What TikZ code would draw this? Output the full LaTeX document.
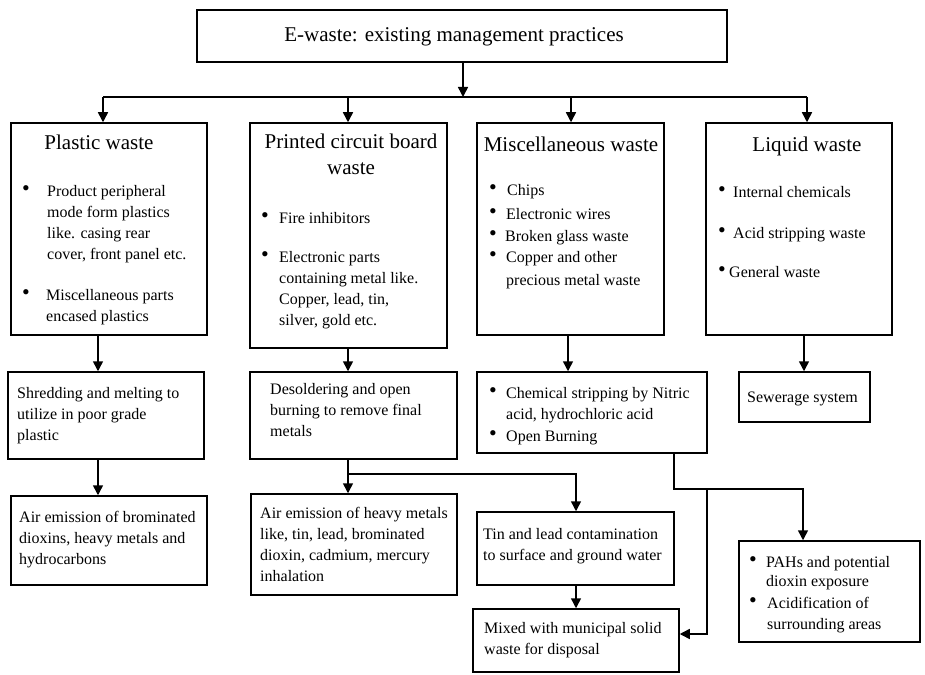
\documentclass[tikz,border=0pt]{standalone}
\usepackage{fontspec}
\setmainfont{Liberation Serif}
\usetikzlibrary{arrows.meta}
\newcommand\tl[1]{\begin{tabular}[t]{@{}l@{}}#1\end{tabular}}
\newcommand\ctl[1]{\begin{tabular}[t]{@{}c@{}}#1\end{tabular}}
\newcommand\bigbul{\raisebox{0.5pt}{\fontsize{22}{22}\selectfont\textbullet}}
\newcommand\bt[2]{\begin{tabular}[t]{@{}l@{}l@{}}\makebox[#1][l]{\hspace*{-1pt}\bigbul}&#2\end{tabular}}
\begin{document}
\begin{tikzpicture}[x=1pt,y=-1pt,
  box/.style={draw, line width=1.5pt, rectangle, inner sep=0pt},
  txt/.style={inner sep=0pt, anchor=base west, font=\fontsize{16}{21}\selectfont},
  head/.style={inner sep=0pt, anchor=base, font=\fontsize{21}{26}\selectfont},
  con/.style={line width=1.5pt},
  arr/.style={con, -{Triangle[length=10pt,width=10pt]}}]
\useasboundingbox (0,0) rectangle (925,674);
% boxes
\node[box, minimum width=530pt, minimum height=52pt] (top) at (462,36) {};
\node[box, minimum width=196pt, minimum height=212pt] (plastic) at (109,229) {};
\node[box, minimum width=197pt, minimum height=225pt] (pcb) at (348.5,235.5) {};
\node[box, minimum width=187pt, minimum height=212pt] (misc) at (570.5,229) {};
\node[box, minimum width=186pt, minimum height=212pt] (liquid) at (799,229) {};
\node[box, minimum width=196pt, minimum height=87pt] (shred) at (106,415.5) {};
\node[box, minimum width=207pt, minimum height=87pt] (desold) at (353.5,415.5) {};
\node[box, minimum width=230pt, minimum height=81pt] (chem) at (592,412.5) {};
\node[box, minimum width=131pt, minimum height=50pt] (sewer) at (804.5,397) {};
\node[box, minimum width=196pt, minimum height=89pt] (airbrom) at (109,540.5) {};
\node[box, minimum width=206pt, minimum height=101pt] (airheavy) at (354,544.5) {};
\node[box, minimum width=197pt, minimum height=73pt] (tin) at (575.5,548.5) {};
\node[box, minimum width=206pt, minimum height=63pt] (mixed) at (576,640.5) {};
\node[box, minimum width=181pt, minimum height=101pt] (pahs) at (829.5,591.5) {};
% texts
\node[head] (ttl) at (454,42) {E-waste: existing management practices};
\node[head] (h1) at (99,149) {Plastic waste};
\node[head] (h2) at (351,148) {\ctl{Printed circuit board\\waste}};
\node[head] (h3) at (571,151) {Miscellaneous waste};
\node[head] (h4) at (807,151) {Liquid waste};
\node[txt] (t1) at (23,196) {\bt{24pt}{Product peripheral\\&mode form plastics\\&like. casing rear\\&cover, front panel etc.}};
\node[txt] (t2) at (23,300) {\bt{23pt}{Miscellaneous parts\\&encased plastics}};
\node[txt] (t3) at (262,223) {\bt{17pt}{Fire inhibitors}};
\node[txt] (t4) at (262,262) {\bt{17pt}{Electronic parts\\&containing metal like.\\&Copper, lead, tin,\\&silver, gold etc.}};
\node[txt] (t5) at (490,195) {\bt{17pt}{Chips}};
\node[txt] (t6) at (490,219) {\bt{16pt}{Electronic wires}};
\node[txt] (t7) at (490,241) {\bt{15pt}{Broken glass waste}};
\node[txt] (t8) at (490,262) {\bt{16pt}{Copper and other\\[2pt]&precious metal waste}};
\node[txt] (t9) at (719,197) {\bt{14pt}{Internal chemicals}};
\node[txt] (t10) at (719,238) {\bt{14pt}{Acid stripping waste}};
\node[txt] (t11) at (719,277) {\bt{10pt}{General waste}};
\node[txt] (t12) at (17,398) {\tl{Shredding and melting to\\utilize in poor grade\\plastic}};
\node[txt] (t13) at (270,394) {\tl{Desoldering and open\\burning to remove final\\metals}};
\node[txt] (t14) at (19,522) {\tl{Air emission of brominated\\dioxins, heavy metals and\\hydrocarbons}};
\node[txt] (t15) at (260,518) {\tl{Air emission of heavy metals\\like, tin, lead, brominated\\dioxin, cadmium, mercury\\inhalation}};
\node[txt] (t16) at (490,398) {\bt{16pt}{Chemical stripping by Nitric\\&acid, hydrochloric acid}};
\node[txt] (t17) at (490,441) {\bt{16pt}{Open Burning}};
\node[txt] (t18) at (747,402) {Sewerage system};
\node[txt] (t19) at (483,539) {\tl{Tin and lead contamination\\to surface and ground water}};
\node[txt] (t20) at (484,633) {\tl{Mixed with municipal solid\\waste for disposal}};
\node[txt] (t21) at (750,567) {\bt{16pt}{PAHs and potential\\[-2pt]&dioxin exposure}};
\node[txt] (t22) at (750,608) {\bt{17pt}{Acidification of\\&surrounding areas}};
% connectors
\coordinate (bus) at (463,97);
\coordinate (b1) at (103,97);
\coordinate (b2) at (348,97);
\coordinate (b3) at (571,97);
\coordinate (b4) at (807,97);
\coordinate (xa) at (98,0);
\coordinate (xb) at (348,0);
\coordinate (xc) at (568,0);
\coordinate (xd) at (804,0);
\coordinate (xe) at (576,0);
\coordinate (xf) at (674,0);
\coordinate (xh) at (803,0);
\coordinate (j1) at (348,474);
\coordinate (j3) at (707,489);
\coordinate (j4) at (707,634);
\draw[arr] (top.south -| bus) -- (bus);
\draw[con] (b1) -- (b4);
\draw[arr] (b1) -- (b1 |- plastic.north);
\draw[arr] (b2) -- (b2 |- pcb.north);
\draw[arr] (b3) -- (b3 |- misc.north);
\draw[arr] (b4) -- (b4 |- liquid.north);
\draw[arr] (plastic.south -| xa) -- (shred.north -| xa);
\draw[arr] (shred.south -| xa) -- (airbrom.north -| xa);
\draw[arr] (pcb.south -| xb) -- (desold.north -| xb);
\draw[arr] (desold.south -| xb) -- (airheavy.north -| xb);
\draw[arr] (j1) -| (tin.north -| xe);
\draw[arr] (misc.south -| xc) -- (chem.north -| xc);
\draw[arr] (liquid.south -| xd) -- (sewer.north -| xd);
\draw[arr] (tin.south -| xe) -- (mixed.north -| xe);
\draw[arr] (chem.south -| xf) |- (j3) -| (pahs.north -| xh);
\draw[arr] (j3) -- (j4) -- (mixed.east |- j4);
\end{tikzpicture}
\end{document}
